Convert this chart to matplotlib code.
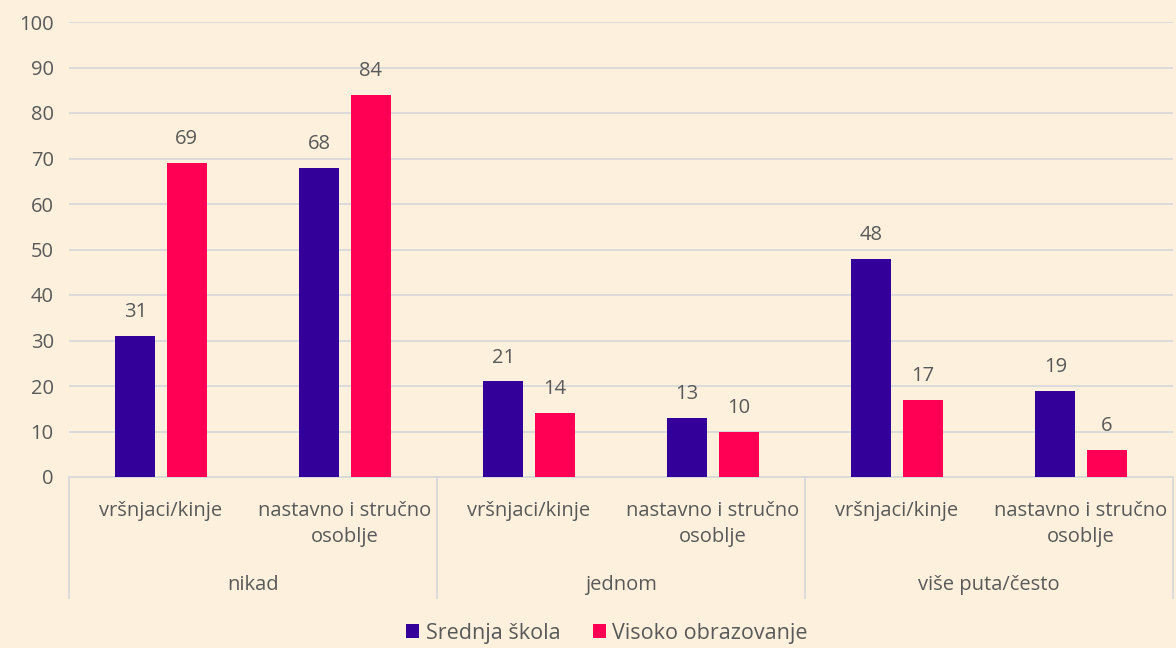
import matplotlib
matplotlib.use("Agg")
import matplotlib.pyplot as plt
import numpy as np

plt.rcParams['font.family'] = ['Open Sans', 'DejaVu Sans']

groups = ["nikad", "jednom", "više puta/često"]
subcats = ["vršnjaci/kinje", "nastavno i stručno\nosoblje"] * 3
srednja = [31, 68, 21, 13, 48, 19]
visoko = [69, 84, 14, 10, 17, 6]
series_names = ["Srednja škola", "Visoko obrazovanje"]

bg = "#FDF1DD"
c_purple = "#330099"
c_pink = "#FF0055"
txt = "#595959"
grid_c = "#D9D9D9"
fs = 14.5

fig = plt.figure(figsize=(11.76, 6.48), dpi=100, facecolor=bg)
ax = fig.add_axes([69 / 1176, 1 - 477 / 648, 1104 / 1176, 455 / 648])
ax.set_facecolor(bg)

x = np.arange(len(subcats))
w = 0.22
off = 0.14
b1 = ax.bar(x - off, srednja, w, color=c_purple, label=series_names[0], zorder=3)
b2 = ax.bar(x + off, visoko, w, color=c_pink, label=series_names[1], zorder=3)

for bars in (b1, b2):
    for rect in bars:
        h = rect.get_height()
        ax.annotate(f"{h:.0f}", (rect.get_x() + rect.get_width() / 2, h),
                    xytext=(0, 10), textcoords="offset points",
                    ha="center", va="bottom", fontsize=fs, color=txt)

ax.set_xlim(-0.5, len(subcats) - 0.5)
ax.set_ylim(0, 100)
ax.set_yticks(range(0, 101, 10))
ax.yaxis.grid(True, color=grid_c, linewidth=1.3, zorder=0)
ax.tick_params(axis="y", length=0, pad=11, labelsize=fs, labelcolor=txt)
ax.set_xticks([])
for s in ["top", "right", "left"]:
    ax.spines[s].set_visible(False)
ax.spines["bottom"].set_color(grid_c)
ax.spines["bottom"].set_linewidth(1.3)

trans = ax.get_xaxis_transform()
# sub-category labels
for i, lab in enumerate(subcats):
    ax.text(i, -0.053, lab, transform=trans, ha="center", va="top",
            fontsize=fs, color=txt, linespacing=1.38)
# group labels and separators
for g, name in enumerate(groups):
    ax.text(2 * g + 0.5, -0.237, name, transform=trans, ha="center", va="center",
            fontsize=fs, color=txt)
for sx in [-0.5, 1.5, 3.5, 5.5]:
    ax.plot([sx, sx], [0, -0.265], transform=trans, color=grid_c,
            linewidth=1.3, clip_on=False)

fig.legend(loc="center", bbox_to_anchor=(607 / 1176, 1 - 633 / 648), ncol=2, frameon=False,
           fontsize=15.5, labelcolor=txt, handlelength=0.6, handleheight=0.6,
           handletextpad=0.3, columnspacing=1.5)

fig.savefig("out.png", dpi=100, facecolor=bg)
